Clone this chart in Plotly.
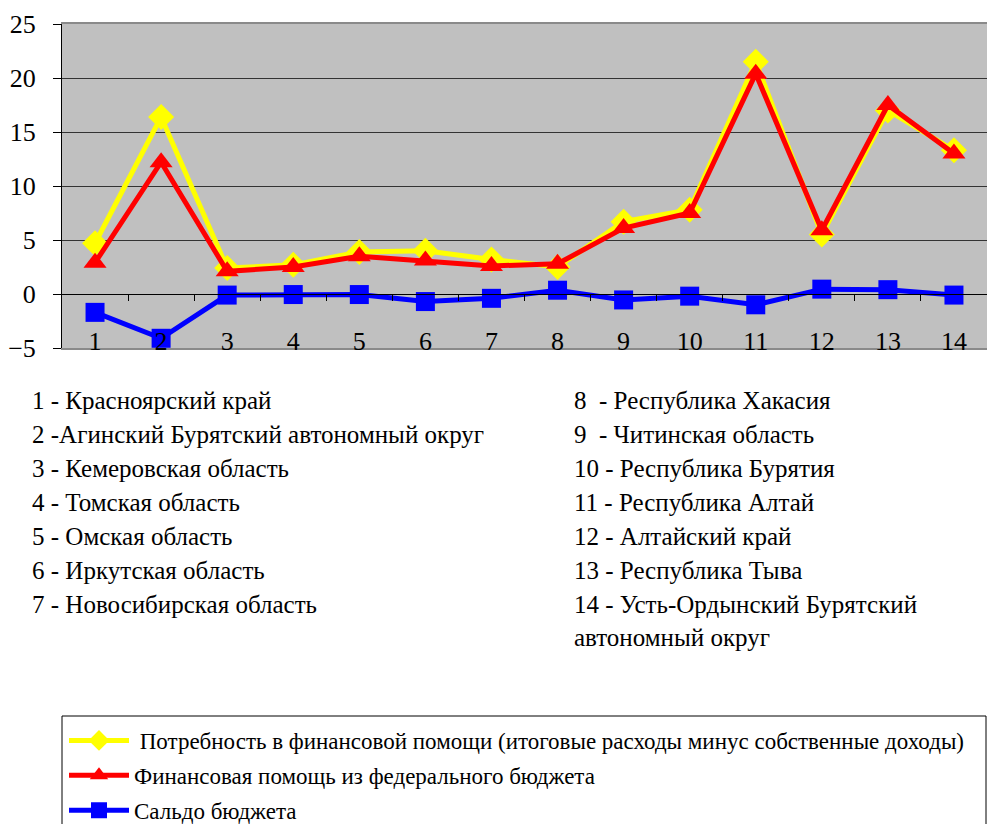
import plotly.graph_objects as go

categories = list(range(1, 14 + 1))
need_aid = [4.7, 16.4, 2.4, 2.7, 3.9, 4.0, 3.2, 2.5, 6.7, 7.8, 21.5, 5.5, 17.0, 13.3]
federal_aid = [2.9, 12.2, 2.1, 2.5, 3.5, 3.1, 2.6, 2.8, 6.1, 7.5, 20.4, 5.9, 17.5, 13.0]
budget_balance = [-1.7, -4.1, -0.1, -0.05, -0.05, -0.7, -0.4, 0.35, -0.55, -0.2, -1.0, 0.45, 0.4, -0.1]

series_names = [
    "Потребность в финансовой помощи (итоговые расходы минус собственные доходы)",
    "Финансовая помощь из федерального бюджета",
    "Сальдо бюджета",
]
region_labels = [
    "1 - Красноярский край",
    "2 -Агинский Бурятский автономный округ",
    "3 - Кемеровская область",
    "4 - Томская область",
    "5 - Омская область",
    "6 - Иркутская область",
    "7 - Новосибирская область",
    "8 \u00a0- Республика Хакасия",
    "9 \u00a0- Читинская область",
    "10 - Республика Бурятия",
    "11 - Республика Алтай",
    "12 - Алтайский край",
    "13 - Республика Тыва",
    "14 - Усть-Ордынский Бурятский<br>автономный округ",
]
y_ticks = [-5, 0, 5, 10, 15, 20, 25]

W, H = 987, 824
L, R, T, B = 62, 0, 24, 348
FONT = "Liberation Serif"


def px(xp):
    return (xp - L) / (W - R - L)


def py(yp):
    return (B - yp) / (B - T)


fig = go.Figure()
fig.add_trace(go.Scatter(
    x=categories, y=need_aid, mode="lines+markers", name=" " + series_names[0],
    line=dict(color="#FFFF00", width=5),
    marker=dict(symbol="diamond", size=20, color="#FFFF00"),
    legendgroup="a",
))
fig.add_trace(go.Scatter(
    x=categories, y=federal_aid, mode="lines+markers", name=series_names[1],
    line=dict(color="#FF0000", width=5),
    marker=dict(symbol="triangle-up", size=20, color="#FF0000"),
    legendgroup="b",
))
fig.add_trace(go.Scatter(
    x=categories, y=budget_balance, mode="lines+markers", name=series_names[2],
    line=dict(color="#0000FF", width=5),
    marker=dict(symbol="square", size=19, color="#0000FF"),
    legendgroup="c",
))
# invisible traces that create the zero-crossing tick axis and the label axis
fig.add_trace(go.Scatter(x=categories, y=[0] * len(categories), xaxis="x2",
                         mode="none", showlegend=False, hoverinfo="skip"))
fig.add_trace(go.Scatter(x=categories, y=[0] * len(categories), xaxis="x3",
                         mode="none", showlegend=False, hoverinfo="skip"))

fig.update_layout(
    width=W, height=H,
    margin=dict(l=L, r=R, t=T, b=H - B, autoexpand=False),
    paper_bgcolor="white", plot_bgcolor="#C0C0C0",
    font=dict(family=FONT, color="black"),
    showlegend=True,
    legend=dict(
        x=px(64), y=py(719), xanchor="left", yanchor="top",
        font=dict(family=FONT, size=23, color="black"),
        bgcolor="rgba(0,0,0,0)", borderwidth=0,
        traceorder="grouped", tracegroupgap=2,
        itemwidth=60,
    ),
    xaxis=dict(
        range=[0.5, 14.5], showticklabels=False, ticks="", showgrid=False,
        zeroline=False, showline=True, linecolor="#8a8a8a", linewidth=2, mirror=True,
    ),
    xaxis2=dict(
        range=[0.5, 14.5], overlaying="x", anchor="free", position=5 / 30,
        side="bottom", tickvals=[c + 0.5 for c in categories[:-1]],
        showticklabels=False, ticks="outside", ticklen=6, tickcolor="black",
        showline=True, linecolor="black", linewidth=1, showgrid=False, zeroline=False,
    ),
    xaxis3=dict(
        range=[0.5, 14.5], overlaying="x", anchor="free", position=py(323),
        side="bottom", tickvals=categories, ticktext=[str(c) for c in categories],
        ticks="", showline=False, showgrid=False, zeroline=False,
        tickfont=dict(family=FONT, size=26, color="black"),
    ),
    yaxis=dict(
        range=[-5, 25], tickvals=y_ticks, ticks="outside", ticklen=8,
        tickcolor="black", showline=True, linecolor="black", linewidth=1,
        showgrid=True, gridcolor="#333333", gridwidth=1, zeroline=False,
        ticklabelstandoff=12,
        tickfont=dict(family=FONT, size=26, color="black"),
    ),
)

# category list
left_x, right_x = px(30), px(572)
row_y0, row_dy = 400, 34
for i, txt in enumerate(region_labels):
    col = 0 if i < 7 else 1
    row = i if i < 7 else i - 7
    fig.add_annotation(
        x=left_x if col == 0 else right_x, y=py(row_y0 + row * row_dy - 15),
        xref="paper", yref="paper", xanchor="left", yanchor="top", align="left",
        text=txt, showarrow=False,
        font=dict(family=FONT, size=25, color="black"),
    )

# legend frame
fig.add_shape(type="rect", xref="paper", yref="paper",
              x0=px(62), x1=px(986), y0=py(716), y1=py(830),
              line=dict(color="black", width=1))

fig.write_html("out.html", config={"displayModeBar": False},
               post_script="document.body.style.margin='0';")
